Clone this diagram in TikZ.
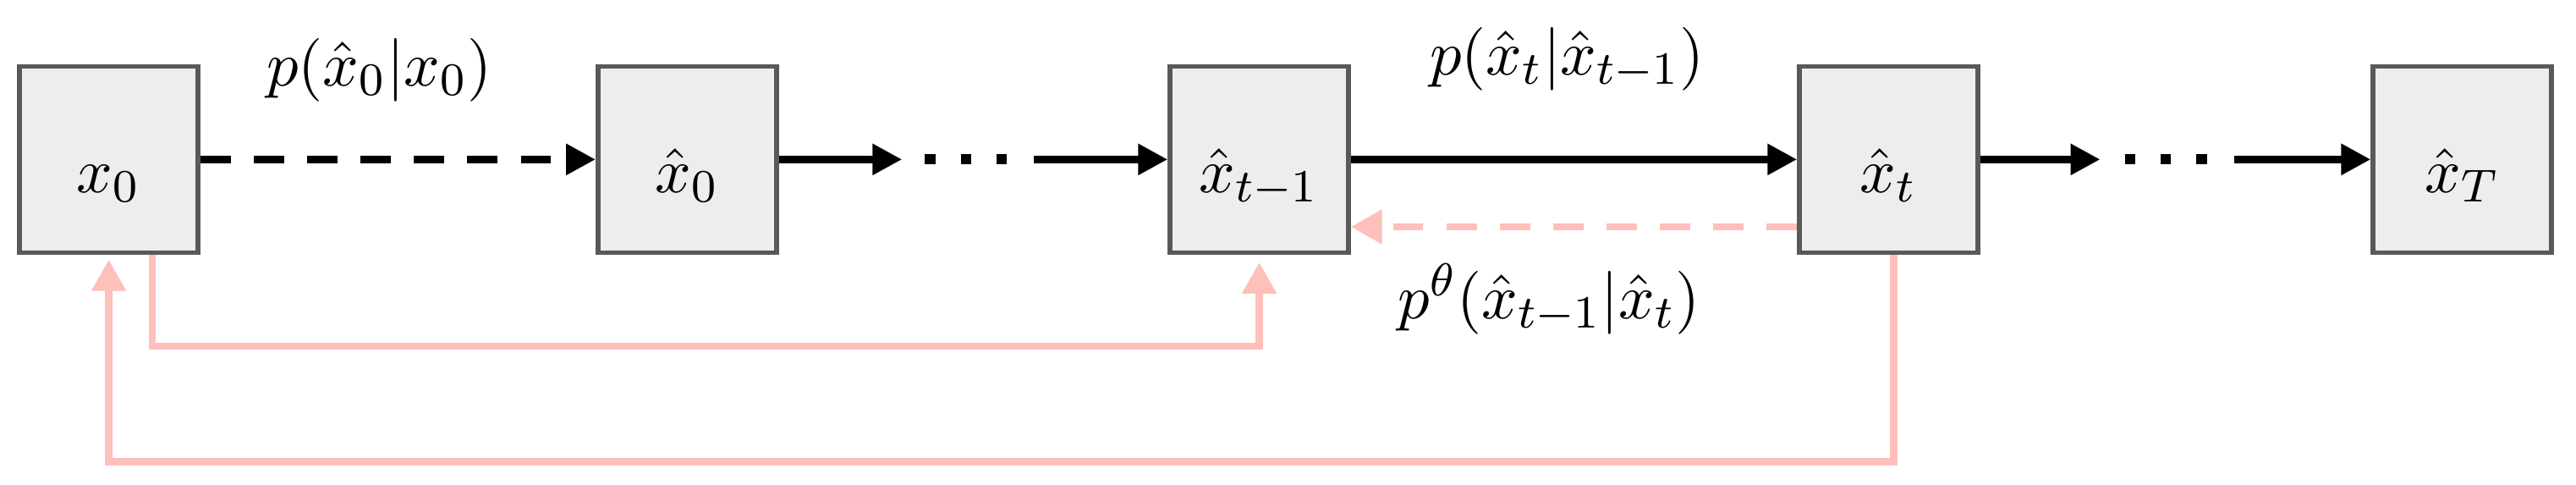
\documentclass[tikz,border=0pt,11pt]{standalone}
\usetikzlibrary{positioning,calc,arrows.meta}
\definecolor{boxfill}{HTML}{EDEDED}
\definecolor{boxline}{HTML}{595959}
\definecolor{backpink}{RGB}{255,191,186}
\begin{document}
\begin{tikzpicture}[
  statebox/.style={draw=boxline, fill=boxfill, line width=0.8pt, minimum width=1.087cm, minimum height=1.132cm, text height=0.6cm, text depth=0.2cm, inner sep=0pt},
  fwd/.style={line width=1.35pt, -{Triangle[length=0.18cm,width=0.18cm]}},
  back/.style={color=backpink, line width=1.3pt, -{Triangle[length=0.19cm,width=0.2cm]}},
  dashes/.style={dash pattern=on 0.185cm off 0.14cm},
  dots/.style={line width=0.062cm, dash pattern=on 0.065cm off 0.152cm}
]
\useasboundingbox (0,0) rectangle (15.68,2.95);

%draw state boxes
\node[statebox] (x0) at (0.662,1.98) {$x_0$};
\node[statebox] (xh0) at (4.183,1.98) {$\hat{x}_0$};
\node[statebox] (xt1) at (7.665,1.98) {$\hat{x}_{t-1}$};
\node[statebox] (xt) at (11.496,1.98) {$\hat{x}_t$};
\node[statebox] (xT) at (14.988,1.98) {$\hat{x}_T$};

%points around the dots
\coordinate[right=0.75cm of xh0] (a1);
\coordinate[right=0.14cm of a1] (d1s);
\coordinate[right=0.50cm of d1s] (d1e);
\coordinate[right=0.16cm of d1e] (b1);
\coordinate[right=0.73cm of xt] (a2);
\coordinate[right=0.15cm of a2] (d2s);
\coordinate[right=0.50cm of d2s] (d2e);
\coordinate[right=0.165cm of d2e] (b2);

%forward arrows
\draw[fwd,dashes] (x0) -- (xh0);
\draw[fwd] (xh0) -- (a1);
\draw[dots] (d1s) -- (d1e);
\draw[fwd] (b1) -- (xt1);
\draw[fwd] (xt1) -- (xt);
\draw[fwd] (xt) -- (a2);
\draw[dots] (d2s) -- (d2e);
\draw[fwd] (b2) -- (xT);

%backward arrows
\draw[back,dashes] ([yshift=-0.41cm]xt.west) -- ([yshift=-0.41cm]xt1.east);
\draw[back] ([xshift=0.265cm]x0.south) -- ++(0,-0.556) -| ([yshift=-0.046cm]xt1.south);
\draw[back] ([xshift=0.03cm]xt.south) -- ++(0,-1.26) -| ([yshift=-0.03cm]x0.south);

%labels
\node[anchor=base] (fwd0) at (2.31,2.427) {$p(\hat{x}_0|x_0)$};
\node[anchor=base] (fwdt) at (9.54,2.493) {$p(\hat{x}_t|\hat{x}_{t-1})$};
\node[anchor=base] (revt) at (9.43,1.013) {$p^{\theta}(\hat{x}_{t-1}|\hat{x}_t)$};
\end{tikzpicture}
\end{document}
